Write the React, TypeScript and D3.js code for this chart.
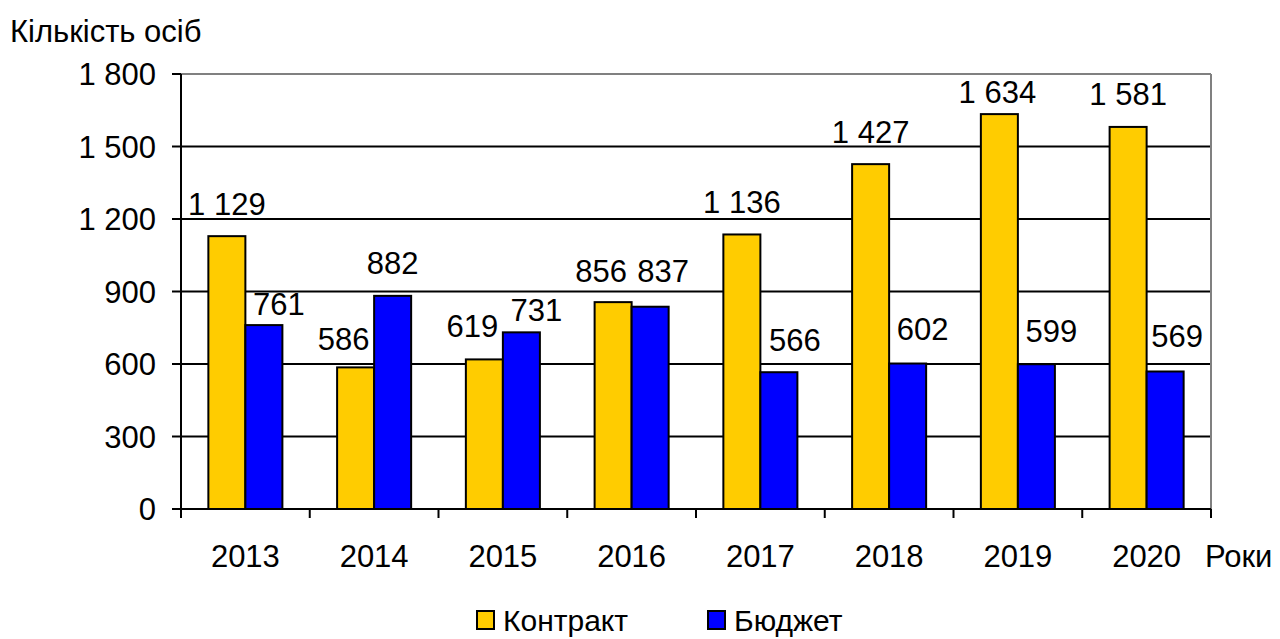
import React from "react";
import * as d3 from "d3";

const years = ["2013", "2014", "2015", "2016", "2017", "2018", "2019", "2020"];
const contract = [1129, 586, 619, 856, 1136, 1427, 1634, 1581];
const budget = [761, 882, 731, 837, 566, 602, 599, 569];
const yTicks = [0, 300, 600, 900, 1200, 1500, 1800];

const seriesNames = ["Контракт", "Бюджет"];
const seriesColors = ["#FFCC00", "#0000FF"];

// label placement tweaks (the source chart moves some labels to avoid overlaps)
const labelDx = [
  [0, -12, -12, -12, 0, 0, -2, 0],
  [15, 0, 15, 13, 16, 15, 15, 12],
];
const labelGap = [
  [21, 17, 22, 20, 21, 21, 11, 22],
  [10, 22, 11, 25, 21, 24, 22, 24],
];

const fmt = (v: number) => d3.format(",")(v).replace(/,/g, " ");

export default function App() {
  const width = 1280;
  const height = 639;
  const left = 181;
  const right = 1211;
  const top = 74;
  const bottom = 509;
  const fs = 31;

  const x = d3.scaleBand().domain(years).range([left, right]).paddingInner(0.425).paddingOuter(0.2125);
  const y = d3.scaleLinear().domain([0, 1800]).range([bottom, top]);
  const inner = d3.scaleBand().domain(seriesNames).range([0, x.bandwidth()]);
  const step = (right - left) / years.length;
  const font = "Arial, 'Liberation Sans', sans-serif";

  const rows = years.map((yr, i) => ({ year: yr, i, values: [contract[i], budget[i]] }));

  return (
    <svg width={width} height={height} style={{ position: "absolute", left: 0, top: 0 }} fontFamily={font}>
      <rect width={width} height={height} fill="#fff" />
      <text x={10} y={42} fontSize={fs}>Кількість осіб</text>

      {yTicks.map((t) => (
        <g key={t}>
          {t > 0 && (
            <line x1={left} x2={right} y1={y(t)} y2={y(t)} stroke={t === 1800 ? "#808080" : "#000"} strokeWidth={2} />
          )}
          <line x1={left - 9} x2={left} y1={y(t)} y2={y(t)} stroke="#000" strokeWidth={2} />
          <text x={156} y={y(t)} dy="0.36em" textAnchor="end" fontSize={fs}>{fmt(t)}</text>
        </g>
      ))}
      <line x1={right} x2={right} y1={top} y2={bottom} stroke="#808080" strokeWidth={2} />

      {rows.map((r) => (
        <g key={r.year} transform={`translate(${x(r.year)},0)`}>
          {r.values.map((v, j) => (
            <rect
              key={j}
              x={inner(seriesNames[j])}
              y={y(v)}
              width={inner.bandwidth()}
              height={y(0) - y(v)}
              fill={seriesColors[j]}
              stroke="#000"
              strokeWidth={2}
            />
          ))}
          {r.values.map((v, j) => (
            <text
              key={"l" + j}
              x={(inner(seriesNames[j]) || 0) + inner.bandwidth() / 2 + labelDx[j][r.i]}
              y={y(v) - labelGap[j][r.i]}
              textAnchor="middle"
              fontSize={fs}
            >
              {fmt(v)}
            </text>
          ))}
        </g>
      ))}

      <line x1={left} x2={left} y1={top} y2={bottom} stroke="#000" strokeWidth={2} />
      <line x1={left} x2={right} y1={bottom} y2={bottom} stroke="#000" strokeWidth={2} />
      {d3.range(years.length + 1).map((i) => (
        <line key={i} x1={left + i * step} x2={left + i * step} y1={bottom} y2={bottom + 9} stroke="#000" strokeWidth={2} />
      ))}
      {years.map((yr) => (
        <text key={yr} x={(x(yr) || 0) + x.bandwidth() / 2} y={567} textAnchor="middle" fontSize={fs}>{yr}</text>
      ))}
      <text x={1205} y={567} fontSize={fs}>Роки</text>

      {seriesNames.map((s, i) => {
        const lx = [477, 708][i];
        return (
          <g key={s}>
            <rect x={lx} y={611} width={17} height={18} fill={seriesColors[i]} stroke="#000" strokeWidth={2} />
            <text x={lx + 26} y={631} fontSize={30}>{s}</text>
          </g>
        );
      })}
    </svg>
  );
}
